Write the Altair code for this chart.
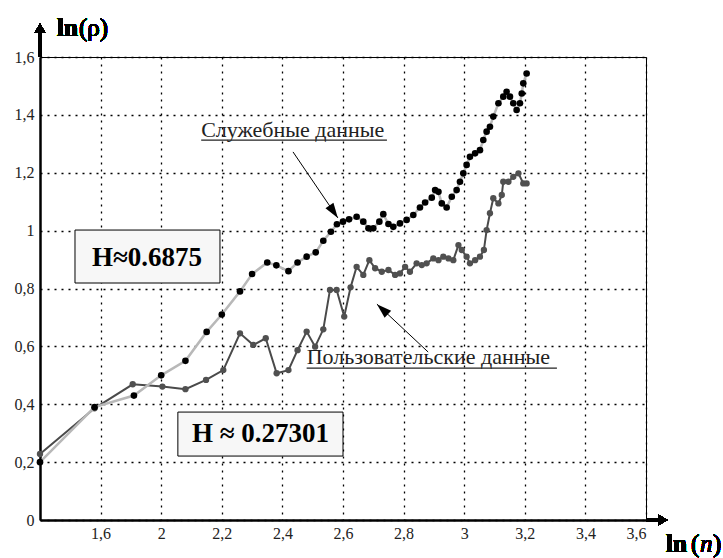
import json
import altair as alt
import pandas as pd

# ---- data ----
serv_x = [1.60, 1.78, 1.91, 2.00, 2.08, 2.15, 2.20, 2.26, 2.30, 2.35,
          2.38, 2.42, 2.45, 2.48, 2.51, 2.535, 2.56, 2.58, 2.60, 2.62,
          2.645, 2.667, 2.684, 2.70, 2.72, 2.733, 2.75, 2.766, 2.788, 2.81,
          2.832, 2.854, 2.871, 2.893, 2.904, 2.915, 2.926, 2.942, 2.959, 2.975,
          2.986, 2.997, 3.008, 3.019, 3.036, 3.052, 3.063, 3.074, 3.085, 3.096,
          3.113, 3.129, 3.140, 3.151, 3.162, 3.173, 3.184, 3.190, 3.195, 3.206]
serv_y = [0.20, 0.39, 0.43, 0.50, 0.55, 0.65, 0.71, 0.79, 0.85, 0.89,
          0.88, 0.86, 0.89, 0.91, 0.925, 0.965, 0.996, 1.022, 1.031, 1.039,
          1.048, 1.031, 1.008, 1.008, 1.031, 1.057, 1.023, 1.013, 1.025, 1.037,
          1.054, 1.08, 1.097, 1.114, 1.14, 1.134, 1.094, 1.08, 1.117, 1.14,
          1.169, 1.198, 1.227, 1.255, 1.267, 1.278, 1.313, 1.342, 1.359, 1.394,
          1.44, 1.463, 1.48, 1.463, 1.44, 1.417, 1.44, 1.474, 1.509, 1.543]

user_x = [1.60, 1.78, 1.906, 2.004, 2.08, 2.148, 2.205, 2.26, 2.304, 2.345,
          2.381, 2.42, 2.45, 2.48, 2.508, 2.535, 2.557, 2.579, 2.604, 2.625,
          2.645, 2.667, 2.687, 2.706, 2.728, 2.75, 2.772, 2.788, 2.805, 2.821,
          2.843, 2.86, 2.876, 2.898, 2.915, 2.931, 2.948, 2.964, 2.981, 2.992,
          3.008, 3.019, 3.036, 3.052, 3.065, 3.074, 3.085, 3.096, 3.113, 3.124,
          3.129, 3.146, 3.162, 3.179, 3.195, 3.206]
user_y = [0.228, 0.386, 0.469, 0.461, 0.452, 0.484, 0.518, 0.645, 0.605, 0.628,
          0.507, 0.518, 0.587, 0.651, 0.599, 0.659, 0.795, 0.795, 0.703, 0.804,
          0.875, 0.847, 0.898, 0.870, 0.858, 0.864, 0.847, 0.852, 0.875, 0.858,
          0.887, 0.881, 0.887, 0.904, 0.898, 0.910, 0.904, 0.898, 0.950, 0.933,
          0.910, 0.887, 0.898, 0.910, 0.933, 1.002, 1.060, 1.112, 1.094, 1.123,
          1.169, 1.169, 1.186, 1.198, 1.163, 1.163]

x_tick_values = [1.8, 2.0, 2.2, 2.4, 2.6, 2.8, 3.0, 3.2, 3.4, 3.6]
x_tick_labels = ["1,6", "2", "2,2", "2,4", "2,6", "2,8", "3", "3,2", "3,4", "3,6"]
y_tick_values = [0, 0.2, 0.4, 0.6, 0.8, 1.0, 1.2, 1.4, 1.6]
y_tick_labels = ["0", "0,2", "0,4", "0,6", "0,8", "1", "1,2", "1,4", "1,6"]

box_texts = ["H≈0.6875", "H ≈ 0.27301"]
label_texts = ["Служебные данные", "Пользовательские данные"]

# ---- tables ----
serv = pd.DataFrame({"x": serv_x, "y": serv_y, "i": range(len(serv_x))})
user = pd.DataFrame({"x": user_x, "y": user_y, "i": range(len(user_x))})

boxes = pd.DataFrame({"x": [1.7155, 2.055], "x2": [2.194, 2.60],
                      "y": [1.002, 0.373], "y2": [0.819, 0.221],
                      "tx": [1.953, 2.328], "ty": [0.905, 0.297],
                      "t": box_texts})
labels = pd.DataFrame({"x": [2.132, 2.48], "y": [1.323, 0.539],
                       "x2": [2.745, 3.306], "uy": [1.313, 0.525],
                       "t": label_texts})
arrows = pd.DataFrame({"x": [2.435, 2.881], "y": [1.272, 0.5805],
                       "x2": [2.583, 2.712], "y2": [1.044, 0.746],
                       "ang": [146, 313]})

W, H = 606, 463
FONT = "Liberation Serif, Times New Roman, serif"

xs = alt.Scale(domain=[1.6, 3.6], nice=False, zero=False)
ys = alt.Scale(domain=[0, 1.6], nice=False)

xlab = f"{json.dumps(x_tick_labels)}[indexof({json.dumps(x_tick_values)}, datum.value)]"
ylab = f"{json.dumps(y_tick_labels)}[indexof({json.dumps(y_tick_values)}, datum.value)]"

X = alt.X("x:Q", scale=xs, title=None,
          axis=alt.Axis(values=x_tick_values, labelExpr=xlab, grid=True,
                        gridDash=[2, 5], gridColor="#000", gridWidth=1.3,
                        domainColor="#000", domainWidth=2.5, ticks=False,
                        labelFont=FONT, labelFontSize=16, labelColor="#222",
                        labelPadding=5))
Y = alt.Y("y:Q", scale=ys, title=None,
          axis=alt.Axis(values=y_tick_values, labelExpr=ylab, grid=True,
                        gridDash=[2, 5], gridColor="#000", gridWidth=1.3,
                        domainColor="#000", domainWidth=2.5, ticks=False,
                        labelFont=FONT, labelFontSize=16, labelColor="#222",
                        labelPadding=6))

axes_layer = alt.Chart(serv).mark_point(opacity=0).encode(x=X, y=Y)

user_line = alt.Chart(user).mark_line(color="#4a4a4a", strokeWidth=2).encode(
    x=alt.X("x:Q", scale=xs), y=alt.Y("y:Q", scale=ys), order="i:Q")
user_pts = alt.Chart(user).mark_circle(color="#505050", size=40, opacity=1).encode(
    x=alt.X("x:Q", scale=xs), y=alt.Y("y:Q", scale=ys))
serv_line = alt.Chart(serv).mark_line(color="#b8b8b8", strokeWidth=2.5).encode(
    x=alt.X("x:Q", scale=xs), y=alt.Y("y:Q", scale=ys), order="i:Q")
serv_pts = alt.Chart(serv).mark_circle(color="#000", size=44, opacity=1).encode(
    x=alt.X("x:Q", scale=xs), y=alt.Y("y:Q", scale=ys))

box_rect = alt.Chart(boxes).mark_rect(fill="#f7f7f7", stroke="#000", strokeWidth=1).encode(
    x=alt.X("x:Q", scale=xs), x2="x2:Q", y=alt.Y("y:Q", scale=ys), y2="y2:Q")
box_text = alt.Chart(boxes).mark_text(font=FONT, fontSize=27, fontWeight="bold",
                                      color="#000", align="center", baseline="middle").encode(
    x=alt.X("tx:Q", scale=xs), y=alt.Y("ty:Q", scale=ys), text="t:N")

lab_text = alt.Chart(labels).mark_text(font=FONT, fontSize=22, color="#222",
                                       align="left", baseline="alphabetic").encode(
    x=alt.X("x:Q", scale=xs), y=alt.Y("y:Q", scale=ys), text="t:N")
lab_under = alt.Chart(labels).mark_rule(color="#222", strokeWidth=1.2).encode(
    x=alt.X("x:Q", scale=xs), x2="x2:Q", y=alt.Y("uy:Q", scale=ys))

arrow_line = alt.Chart(arrows).mark_rule(color="#000", strokeWidth=1).encode(
    x=alt.X("x:Q", scale=xs), x2="x2:Q", y=alt.Y("y:Q", scale=ys), y2="y2:Q")
arrow_head = alt.Chart(arrows).mark_point(shape="M0,0L0.32,1L-0.32,1Z", filled=True,
                                          color="#000", size=900, opacity=1).encode(
    x=alt.X("x2:Q", scale=xs), y=alt.Y("y2:Q", scale=ys), angle=alt.Angle("ang:Q", scale=None))

# axis extensions with arrows
yext = alt.Chart(serv).mark_rule(color="#000", strokeWidth=2.5).encode(
    x=alt.value(0), y=alt.value(0), y2=alt.value(-24))
xext = alt.Chart(serv).mark_rule(color="#000", strokeWidth=2.5).encode(
    x=alt.value(606), x2=alt.value(618), y=alt.value(H))
yarrow = alt.Chart(serv).mark_point(shape="triangle-up", filled=True, color="#000",
                                    size=110, opacity=1).encode(
    x=alt.value(0), y=alt.value(-29))
xarrow = alt.Chart(serv).mark_point(shape="triangle-right", filled=True, color="#000",
                                    size=110, opacity=1).encode(
    x=alt.value(623), y=alt.value(H))

t_ln_top = alt.Chart(serv).mark_text(font=FONT, fontSize=25, fontWeight="bold", align="left",
                                     baseline="alphabetic", color="#000").encode(
    x=alt.value(17), y=alt.value(-21), text=alt.value("ln"))
t_rho = alt.Chart(serv).mark_text(font=FONT, fontSize=25, align="left",
                                  baseline="alphabetic", color="#000").encode(
    x=alt.value(39), y=alt.value(-21), text=alt.value("(ρ)"))
t_ln_bot = alt.Chart(serv).mark_text(font=FONT, fontSize=25, fontWeight="bold", align="left",
                                     baseline="alphabetic", color="#000").encode(
    x=alt.value(626), y=alt.value(495), text=alt.value("ln"))
t_n = alt.Chart(serv).mark_text(font=FONT, fontSize=25, align="left",
                                baseline="alphabetic", color="#000").encode(
    x=alt.value(651), y=alt.value(495), text=alt.value("("))
t_n2 = alt.Chart(serv).mark_text(font=FONT, fontSize=25, fontStyle="italic", align="left",
                                 baseline="alphabetic", color="#000").encode(
    x=alt.value(660), y=alt.value(495), text=alt.value("n"))
t_n3 = alt.Chart(serv).mark_text(font=FONT, fontSize=25, align="left",
                                 baseline="alphabetic", color="#000").encode(
    x=alt.value(673), y=alt.value(495), text=alt.value(")"))

chart = alt.layer(
    axes_layer, box_rect, box_text, user_line, user_pts, serv_line, serv_pts,
    lab_text, lab_under, arrow_line, arrow_head,
    yext, xext, yarrow, xarrow, t_ln_top, t_rho, t_ln_bot, t_n, t_n2, t_n3
).properties(
    width=W, height=H,
    autosize=alt.AutoSizeParams(type="none"),
    padding={"left": 40, "top": 57, "right": 77, "bottom": 38},
    background="#fff"
).configure_view(stroke="#000", strokeWidth=1)

chart.save("out.html", embed_options={"renderer": "svg", "actions": False})
